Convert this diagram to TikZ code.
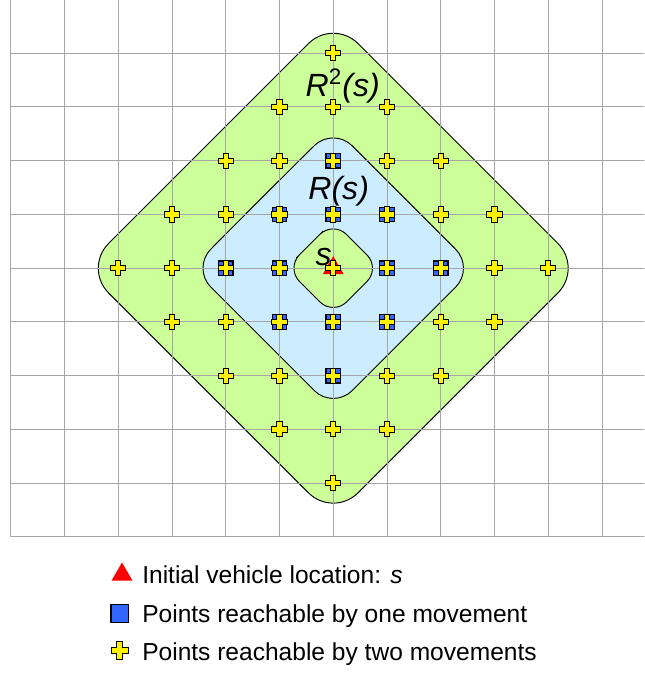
\documentclass[tikz,border=0pt]{standalone}
\usepackage{fontspec}
\setmainfont{Liberation Sans}
\usepackage{tikz}
\usetikzlibrary{shapes.geometric, positioning}

\definecolor{ringgreen}{HTML}{CCFF99}
\definecolor{ringblue}{HTML}{CCECFF}
\definecolor{markblue}{HTML}{3366FF}

\begin{document}
\begin{tikzpicture}[
    font=\fontsize{13}{15}\selectfont,
    gridline/.style={gray!70, line width=0.5pt},
    region/.style={draw=black, line width=0.5pt},
    setlabel/.style={font=\fontsize{17}{20}\selectfont\itshape, inner sep=0pt, anchor=base west},
    origin/.style={regular polygon, regular polygon sides=3, fill=red, minimum size=0.45cm, inner sep=0pt},
    onestep/.style={draw=black, fill=markblue, line width=0.6pt, minimum size=0.27cm, inner sep=0pt},
    legtext/.style={inner sep=0pt, anchor=west, text height=0.72em, text depth=0pt},
    twostep/.pic={\draw[black, line width=0.5pt, fill=yellow]
        (-0.05,0.14) -- (0.05,0.14) -- (0.05,0.05) -- (0.14,0.05) -- (0.14,-0.05) -- (0.05,-0.05)
        -- (0.05,-0.14) -- (-0.05,-0.14) -- (-0.05,-0.05) -- (-0.14,-0.05) -- (-0.14,0.05) -- (-0.05,0.05) -- cycle;}
]
\useasboundingbox (-6.2,-7.55) rectangle (5.79,4.99);

% Regions
\filldraw[region, fill=ringgreen, rounded corners=0.65cm]
    (-2.32,2.32) -- (-4.64,0) -- (0,-4.64) -- (4.64,0) -- (0,4.64) -- cycle;
\filldraw[region, fill=ringblue, rounded corners=0.5cm]
    (-1.32,1.32) -- (-2.63,0) -- (0,-2.63) -- (2.63,0) -- (0,2.63) -- cycle;
\filldraw[region, fill=ringgreen, rounded corners=0.35cm]
    (-0.44,0.44) -- (-0.875,0) -- (0,-0.875) -- (0.875,0) -- (0,0.875) -- cycle;

% Grid
\begin{scope}
    \clip (-6.2,-7.55) rectangle (5.79,4.99);
    \draw[gridline] (-6,-5) grid (6,5);
\end{scope}

% Labels
\node[setlabel] (r2) at (-0.52,3.19) {R\textsuperscript{\upshape 2}(s)};
\node[setlabel] (r1) at (-0.47,1.285) {R(s)};
\node[setlabel] (s) at (-0.335,0.056) {s};

% Points
\node[origin] (start) at (0,0) {};
\foreach \x in {-4,...,4} {
    \foreach \y in {-4,...,4} {
        \pgfmathtruncatemacro{\dist}{abs(\x)+abs(\y)}
        \ifnum\dist<3 \ifnum\dist>0
            \node[onestep] (one-\x-\y) at (\x,\y) {};
        \fi\fi
        \ifnum\dist<5
            \pic (two-\x-\y) at (\x,\y) {twostep};
        \fi
    }
}

% Legend
\node[origin] (leg-start) at (-3.93,-5.70) {};
\node[onestep, minimum size=0.33cm] (leg-one) at (-3.97,-6.42) {};
\pic[scale=1.15] (leg-two) at (-3.97,-7.11) {twostep};
\node[legtext] (leg-start-txt) at (-3.56,-5.74) {Initial vehicle location: \textit{s}};
\node[legtext] (leg-one-txt) at (-3.56,-6.46) {Points reachable by one movement};
\node[legtext] (leg-two-txt) at (-3.56,-7.17) {Points reachable by two movements};

\end{tikzpicture}
\end{document}
